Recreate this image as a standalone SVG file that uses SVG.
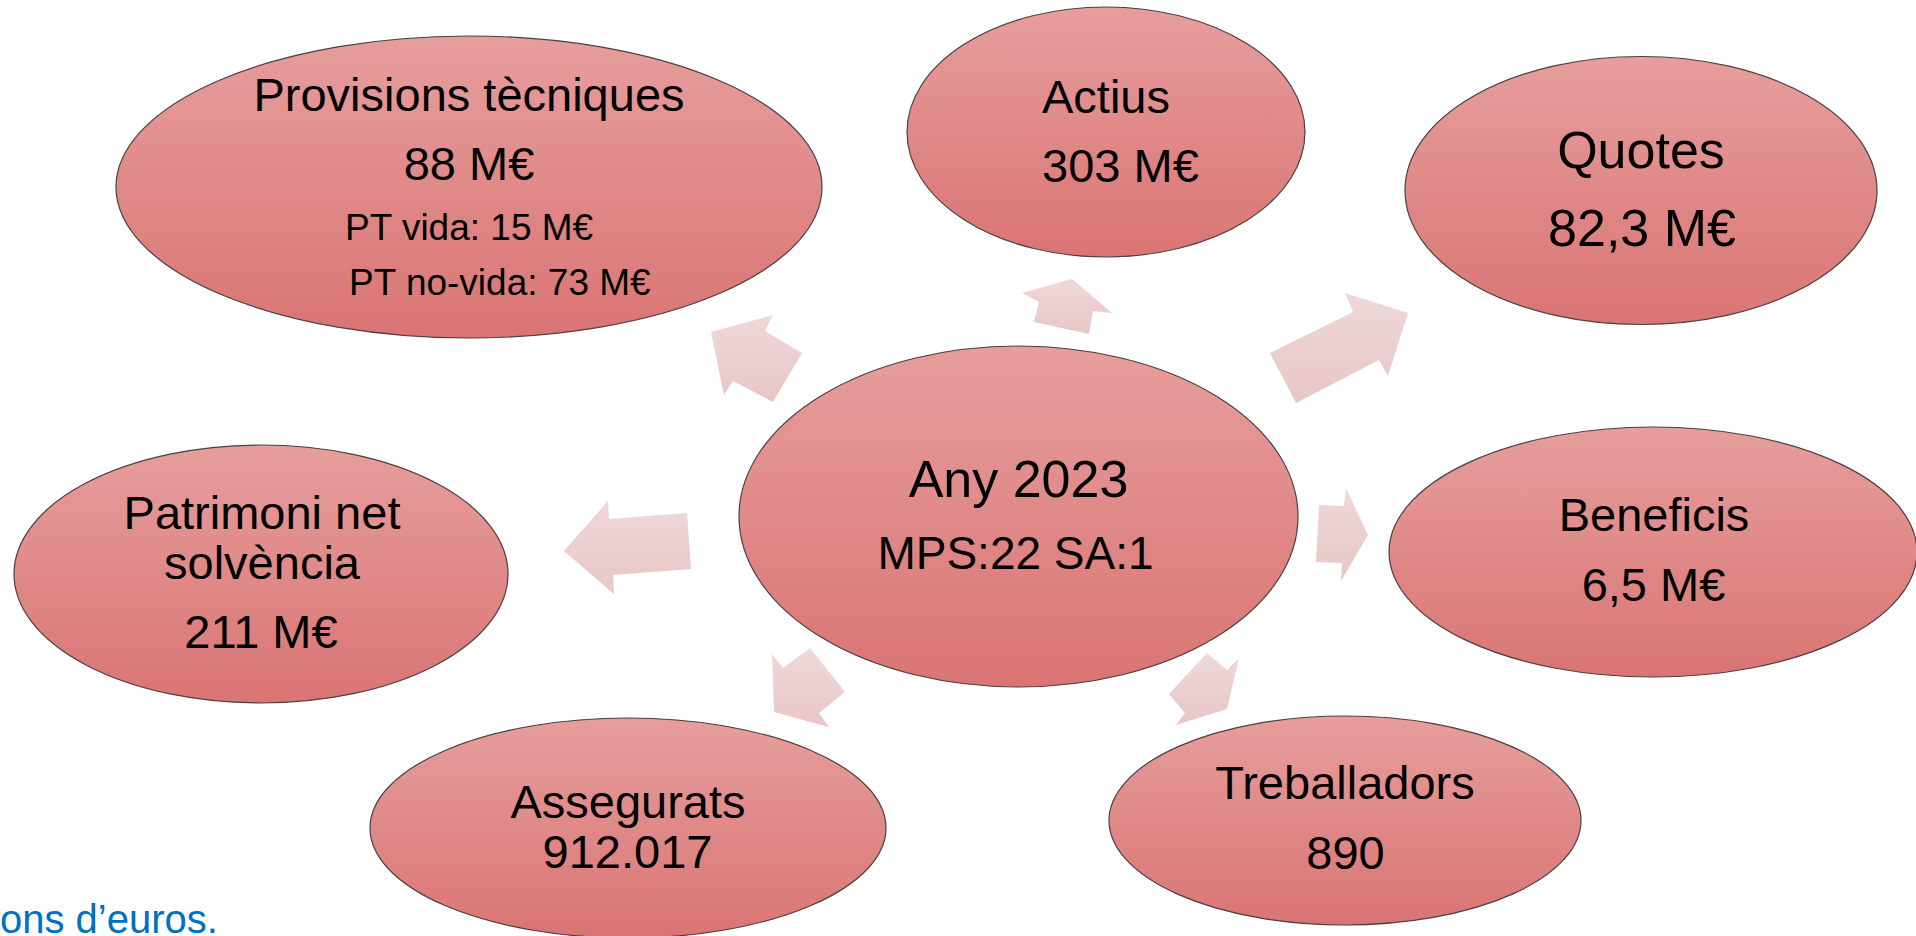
<svg xmlns="http://www.w3.org/2000/svg" width="1916" height="936" viewBox="0 0 1916 936">
<defs>
<linearGradient id="gNode" x1="0" y1="0" x2="0" y2="1">
<stop offset="0" stop-color="#E69E9D"/>
<stop offset="1" stop-color="#D97574"/>
</linearGradient>
<linearGradient id="gArrow" x1="0" y1="0" x2="0" y2="1">
<stop offset="0" stop-color="#EFD8D9"/>
<stop offset="1" stop-color="#E8C6C7"/>
</linearGradient>
<style>
.node{fill:url(#gNode);stroke:#4a4040;stroke-width:1.2}
.arr{fill:url(#gArrow);stroke:none}
text{font-family:"Liberation Sans",Arial,sans-serif;fill:#000;text-anchor:middle}
.t47{font-size:47px}
.t52{font-size:52px}
.t46{font-size:46px}
.t37{font-size:37px;text-anchor:start}
.note{font-size:40px;fill:#0070C0;text-anchor:start}
</style>
</defs>
<rect width="1916" height="936" fill="#fff"/>
<g id="connectors">
<polygon class="arr" points="711,332 773,315 765,331 802,353 773,402 733,381 724,395"/>
<polygon class="arr" points="1072,279 1112,313 1093,311 1089,334 1034,322 1039,302 1022,293"/>
<polygon class="arr" points="1408,313 1388,376 1379,360 1296,403 1270,353 1353,312 1345,293"/>
<polygon class="arr" points="1368,535 1341,581 1342,563 1316,562 1319,505 1344,506 1346,488"/>
<polygon class="arr" points="1227,709 1176,725 1185,713 1169,694 1207,653 1227,670 1239,658"/>
<polygon class="arr" points="774,712 772,654 783,668 810,648 845,692 819,713 829,727"/>
<polygon class="arr" points="564,551 608,501 609,519 687,513 691,569 613,575 614,594"/>
</g>
<g id="center">
<ellipse class="node" cx="1018.5" cy="516.5" rx="279.5" ry="170.5"/>
<text class="t52" x="1018.5" y="497">Any 2023</text>
<text class="t46" x="1015.5" y="569">MPS:22 SA:1</text>
</g>
<g id="provisions">
<ellipse class="node" cx="469" cy="187" rx="353" ry="151"/>
<text class="t47" x="469" y="111">Provisions tècniques</text>
<text class="t47" x="469" y="180">88 M€</text>
<text class="t37" x="345" y="240">PT vida: 15 M€</text>
<text class="t37" x="349" y="295">PT no-vida: 73 M€</text>
</g>
<g id="actius">
<ellipse class="node" cx="1106" cy="132" rx="199" ry="125"/>
<text class="t47" x="1106" y="113">Actius</text>
<text class="t47" x="1042" y="182" style="text-anchor:start">303 M€</text>
</g>
<g id="quotes">
<ellipse class="node" cx="1641" cy="190.5" rx="236" ry="134"/>
<text class="t52" x="1641" y="168">Quotes</text>
<text class="t52" x="1642" y="246">82,3 M€</text>
</g>
<g id="beneficis">
<ellipse class="node" cx="1653" cy="552" rx="264" ry="125"/>
<text class="t47" x="1654" y="531">Beneficis</text>
<text class="t47" x="1653.5" y="601">6,5 M€</text>
</g>
<g id="treballadors">
<ellipse class="node" cx="1345" cy="820.5" rx="236" ry="104.5"/>
<text class="t47" x="1345" y="799">Treballadors</text>
<text class="t47" x="1345.5" y="869">890</text>
</g>
<g id="assegurats">
<ellipse class="node" cx="628" cy="828" rx="258" ry="110"/>
<text class="t47" x="628" y="818">Assegurats</text>
<text class="t47" x="627.5" y="868">912.017</text>
</g>
<g id="patrimoni">
<ellipse class="node" cx="261" cy="574" rx="247" ry="129"/>
<text class="t47" x="262" y="529">Patrimoni net</text>
<text class="t47" x="262" y="579">solvència</text>
<text class="t47" x="261" y="648">211 M€</text>
</g>
<text class="note" x="0" y="933">ons d’euros.</text>
</svg>
